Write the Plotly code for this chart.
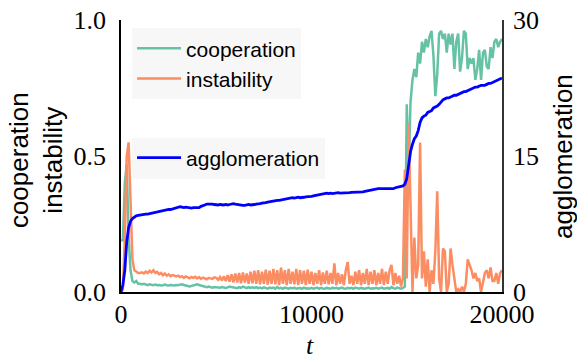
import plotly.graph_objects as go

# sample times (every 100 steps)
t = list(range(0, 20001, 100))

cooperation = [
    0.19, 0.19, 0.40, 0.47, 0.20, 0.08, 0.04, 0.035, 0.04, 0.03,
    0.03, 0.028, 0.03, 0.027, 0.025, 0.028, 0.026, 0.025, 0.027, 0.025,
    0.026, 0.024, 0.025, 0.027, 0.025, 0.024, 0.026, 0.025, 0.024, 0.026,
    0.025, 0.027, 0.028, 0.026, 0.025, 0.022, 0.020, 0.022, 0.025, 0.027,
    0.028, 0.026, 0.024, 0.020, 0.018, 0.018, 0.020, 0.018, 0.016, 0.018,
    0.017, 0.015, 0.016, 0.018, 0.016, 0.015, 0.017, 0.020, 0.018, 0.016,
    0.016, 0.014, 0.018, 0.015, 0.020, 0.016, 0.014, 0.018, 0.015, 0.017,
    0.015, 0.018, 0.014, 0.016, 0.013, 0.017, 0.015, 0.012, 0.016, 0.014,
    0.016, 0.012, 0.018, 0.013, 0.015, 0.012, 0.016, 0.014, 0.012, 0.015,
    0.013, 0.016, 0.012, 0.014, 0.015, 0.012, 0.016, 0.013, 0.014, 0.012,
    0.015, 0.012, 0.014, 0.016, 0.012, 0.015, 0.013, 0.012, 0.015, 0.014,
    0.012, 0.016, 0.013, 0.015, 0.012, 0.014, 0.016, 0.013, 0.012, 0.015,
    0.013, 0.015, 0.012, 0.016, 0.014, 0.012, 0.015, 0.013, 0.012, 0.014,
    0.016, 0.012, 0.014, 0.013, 0.015, 0.012, 0.014, 0.016, 0.012, 0.013,
    0.015, 0.012, 0.018, 0.014, 0.012, 0.016, 0.013, 0.012, 0.015, 0.020,
    0.69, 0.45, 0.70, 0.78, 0.82, 0.79, 0.88, 0.84, 0.92, 0.88,
    0.93, 0.90, 0.94, 0.96, 0.87, 0.72, 0.80, 0.95, 0.96, 0.93,
    0.95, 0.88, 0.95, 0.91, 0.95, 0.82, 0.92, 0.95, 0.81, 0.86,
    0.96, 0.95, 0.82, 0.86, 0.84, 0.86, 0.78, 0.82, 0.89, 0.78,
    0.88, 0.89, 0.83, 0.82, 0.90, 0.86, 0.92, 0.93, 0.90, 0.92,
    0.93,
]

instability = [
    0.0, 0.01, 0.20, 0.50, 0.55, 0.30, 0.12, 0.08, 0.075, 0.07,
    0.07, 0.072, 0.068, 0.075, 0.07, 0.078, 0.072, 0.08, 0.07, 0.074,
    0.065, 0.07, 0.062, 0.068, 0.06, 0.065, 0.058, 0.062, 0.06, 0.057,
    0.06, 0.055, 0.058, 0.052, 0.057, 0.054, 0.05, 0.055, 0.052, 0.056,
    0.05, 0.055, 0.048, 0.053, 0.05, 0.047, 0.052, 0.05, 0.048, 0.054,
    0.052, 0.045, 0.055, 0.042, 0.058, 0.04, 0.062, 0.038, 0.065, 0.035,
    0.068, 0.035, 0.07, 0.032, 0.072, 0.035, 0.068, 0.03, 0.075, 0.032,
    0.078, 0.03, 0.08, 0.028, 0.075, 0.03, 0.082, 0.027, 0.078, 0.03,
    0.085, 0.028, 0.08, 0.025, 0.09, 0.03, 0.08, 0.025, 0.085, 0.03,
    0.075, 0.028, 0.085, 0.025, 0.08, 0.03, 0.078, 0.025, 0.082, 0.03,
    0.075, 0.025, 0.07, 0.03, 0.08, 0.025, 0.072, 0.03, 0.078, 0.028,
    0.07, 0.03, 0.105, 0.025, 0.07, 0.03, 0.065, 0.025, 0.08, 0.11,
    0.03, 0.06, 0.025, 0.075, 0.03, 0.08, 0.025, 0.07, 0.03, 0.085,
    0.025, 0.075, 0.03, 0.08, 0.025, 0.07, 0.03, 0.085, 0.025, 0.075,
    0.03, 0.08, 0.10, 0.025, 0.07, 0.03, 0.06, 0.02, 0.05, 0.45,
    0.05, 0.62, 0.30, 0.0, 0.20, 0.05, 0.10, 0.55, 0.05, 0.15,
    0.02, 0.12, 0.0, 0.08, 0.03, 0.15, 0.37, 0.05, 0.0, 0.16,
    0.15, 0.0, 0.03, 0.16, 0.10, 0.04, 0.0, 0.01, 0.0, 0.02,
    0.0, 0.03, 0.12, 0.10, 0.08, 0.05, 0.07, 0.04, 0.05, 0.0,
    0.03, 0.07, 0.08, 0.05, 0.09, 0.04, 0.04, 0.07, 0.03, 0.07,
    0.08,
]

agglomeration = [
    0.0, 0.8, 2.4, 5.5, 7.1, 7.8, 8.1, 8.3, 8.4, 8.45,
    8.5, 8.5, 8.55, 8.6, 8.6, 8.65, 8.7, 8.75, 8.8, 8.8,
    8.85, 8.9, 8.95, 9.0, 9.05, 9.1, 9.1, 9.15, 9.2, 9.25,
    9.35, 9.4, 9.35, 9.3, 9.35, 9.3, 9.3, 9.25, 9.3, 9.3,
    9.35, 9.3, 9.45, 9.5, 9.6, 9.7, 9.7, 9.75, 9.7, 9.65,
    9.6, 9.6, 9.65, 9.6, 9.6, 9.65, 9.6, 9.65, 9.7, 9.75,
    9.7, 9.65, 9.6, 9.6, 9.55, 9.55, 9.6, 9.65, 9.6, 9.6,
    9.65, 9.7, 9.7, 9.75, 9.8, 9.8, 9.85, 9.9, 9.95, 10.0,
    10.0, 10.05, 10.1, 10.1, 10.15, 10.2, 10.25, 10.3, 10.35, 10.4,
    10.4, 10.35, 10.4, 10.45, 10.4, 10.4, 10.45, 10.5, 10.5, 10.5,
    10.55, 10.6, 10.65, 10.7, 10.7, 10.75, 10.8, 10.9, 10.9, 10.85,
    10.9, 10.85, 10.9, 10.9, 10.95, 10.9, 10.9, 10.95, 10.9, 10.95,
    10.95, 11.0, 11.0, 11.0, 11.05, 11.05, 11.0, 11.05, 11.1, 11.15,
    11.2, 11.25, 11.3, 11.3, 11.35, 11.4, 11.4, 11.4, 11.4, 11.4,
    11.4, 11.45, 11.45, 11.4, 11.5, 11.55, 11.6, 11.6, 11.7, 11.9,
    12.5, 14.0, 15.5, 16.3, 16.9, 17.2, 17.8, 18.7, 19.2, 19.4,
    19.5, 19.8, 19.9, 20.0, 20.3, 20.4, 20.5, 20.7, 21.0, 21.2,
    21.3, 21.4, 21.4, 21.5, 21.6, 21.7, 21.7, 21.8, 21.9, 22.0,
    22.1, 22.1, 22.2, 22.3, 22.4, 22.5, 22.6, 22.6, 22.7, 22.8,
    22.8, 22.8, 22.9, 23.0, 23.0, 23.1, 23.2, 23.3, 23.4, 23.5,
    23.6,
]

y_ticks = [0, 0.5, 1.0]
y_ticklabels = ["0.0", "0.5", "1.0"]
y2_ticks = [0, 15, 30]
y2_ticklabels = ["0", "15", "30"]
x_ticks = [0, 10000, 20000]
x_ticklabels = ["0", "10000", "20000"]

GREEN = "#66c2a5"
ORANGE = "#fc8d62"
BLUE = "#0000ff"
SERIF = "Liberation Serif"
SANS = "Liberation Sans"

fig = go.Figure()
fig.add_trace(go.Scatter(x=t, y=cooperation, mode="lines", name="cooperation",
                         line=dict(color=GREEN, width=2.5), legend="legend"))
fig.add_trace(go.Scatter(x=t, y=instability, mode="lines", name="instability",
                         line=dict(color=ORANGE, width=2.5), legend="legend"))
fig.add_trace(go.Scatter(x=t, y=agglomeration, mode="lines", name="agglomeration",
                         line=dict(color=BLUE, width=2.8), yaxis="y2", legend="legend2"))

fig.update_layout(
    width=577, height=362,
    margin=dict(l=121, r=75, t=20, b=70, autoexpand=False),
    plot_bgcolor="white", paper_bgcolor="white",
    showlegend=True,
    xaxis=dict(range=[0, 20000], tickvals=x_ticks, ticktext=x_ticklabels,
               showgrid=False, zeroline=False, showline=True, linecolor="black",
               linewidth=1.5, ticks="", ticklabelstandoff=-2, automargin=False,
               tickfont=dict(family=SERIF, size=26, color="black")),
    yaxis=dict(range=[0, 1], tickvals=y_ticks, ticktext=y_ticklabels,
               showgrid=False, zeroline=False, showline=True, linecolor="black",
               linewidth=1.5, ticks="", ticklabelstandoff=8, automargin=False,
               tickfont=dict(family=SERIF, size=26, color="black")),
    yaxis2=dict(range=[0, 30], tickvals=y2_ticks, ticktext=y2_ticklabels,
                overlaying="y", side="right", anchor="x", automargin=False,
                showgrid=False, zeroline=False, showline=True, linecolor="#333333",
                linewidth=1.5, ticks="", ticklabelstandoff=4,
                tickfont=dict(family=SERIF, size=26, color="black")),
    legend=dict(x=0.029, y=0.97, xanchor="left", yanchor="top",
                bgcolor="#f7f7f7", borderwidth=0,
                font=dict(family=SANS, size=21, color="black"),
                itemwidth=44),
    legend2=dict(x=0.029, y=0.568, xanchor="left", yanchor="top",
                 bgcolor="#f7f7f7", borderwidth=0,
                 font=dict(family=SANS, size=21, color="black"),
                 itemwidth=44),
    annotations=[
        dict(text="cooperation<br>instability", xref="paper", yref="paper",
             x=-0.223, y=0.485, xanchor="center", yanchor="middle",
             textangle=-90, showarrow=False,
             font=dict(family=SANS, size=26, color="black")),
        dict(text="agglomeration", xref="paper", yref="paper",
             x=1.16, y=0.5, xanchor="center", yanchor="middle",
             textangle=-90, showarrow=False,
             font=dict(family=SANS, size=26, color="black")),
        dict(text="<i>t</i>", xref="paper", yref="paper",
             x=0.496, y=-0.195, xanchor="center", yanchor="middle",
             showarrow=False,
             font=dict(family=SERIF, size=26, color="black")),
    ],
)

fig.write_html("out.html", config={"displayModeBar": False},
               post_script="document.body.style.margin='0px';")
